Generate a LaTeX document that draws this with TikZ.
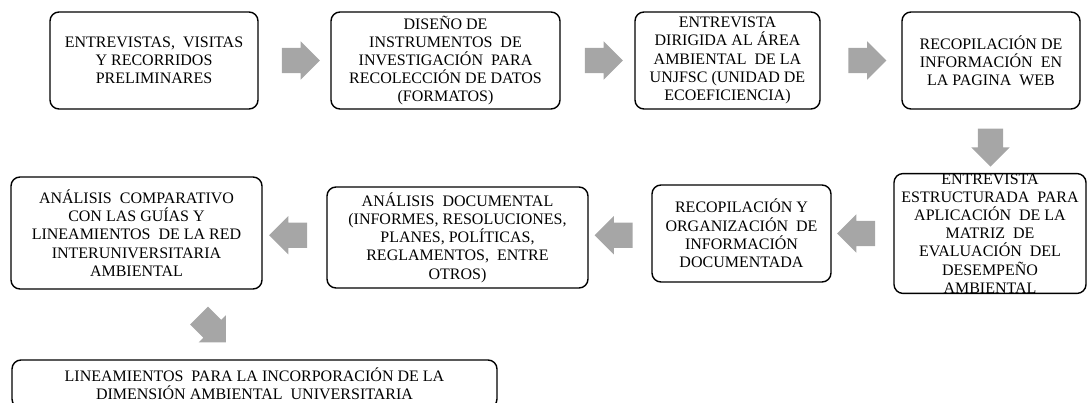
\documentclass[tikz,border=0pt]{standalone}
\usepackage{fontspec}
\setmainfont{Liberation Serif}
\usepackage{tikz}
\usetikzlibrary{shapes,arrows,positioning}
\definecolor{ArrowGray}{RGB}{166,166,166}

\begin{document}
\begin{tikzpicture}[x=1pt,y=-1pt]
	\tikzstyle{Box}		= [draw, rounded corners=9pt, line width=1.4pt, align=center, inner sep=0pt, font=\fontsize{16}{18.2}\selectfont]
	\tikzstyle{Arrow}	= [single arrow, fill=ArrowGray, draw=none, minimum height=38pt, inner xsep=0pt, inner ysep=12.5pt, single arrow head extend=6.5pt, single arrow tip angle=90]
	\tikzstyle{ToLeft}	= [rotate=180]
	\tikzstyle{ToDown}	= [rotate=-90]

	\useasboundingbox (0,0) rectangle (1088,403);

	\node (b1) at (154,60.5) [Box, minimum width=208pt, minimum height=97pt] {ENTREVISTAS,~~VISITAS\\Y RECORRIDOS\\PRELIMINARES};
	\node (b2) at (445.5,60.5) [Box, minimum width=229pt, minimum height=97pt] {DISEÑO DE\\INSTRUMENTOS~~DE\\INVESTIGACIÓN~~PARA\\RECOLECCIÓN DE DATOS\\(FORMATOS)};
	\node (b3) at (727.5,60.5) [Box, minimum width=185pt, minimum height=97pt] {ENTREVISTA\\DIRIGIDA AL ÁREA\\AMBIENTAL~~DE LA\\UNJFSC (UNIDAD DE\\ECOEFICIENCIA)};
	\node (b4) at (991,60.5) [Box, minimum width=178pt, minimum height=97pt] {RECOPILACIÓN DE\\INFORMACIÓN~~EN\\LA PAGINA~~WEB};
	\node (b5) at (990,233.5) [Box, minimum width=192pt, minimum height=119pt] {ENTREVISTA\\ESTRUCTURADA~~PARA\\APLICACIÓN~~DE LA\\MATRIZ~~DE\\EVALUACIÓN~~DEL\\DESEMPEÑO\\AMBIENTAL};
	\node (b6) at (741.5,233.5) [Box, minimum width=179pt, minimum height=97pt] {RECOPILACIÓN Y\\ORGANIZACIÓN~~DE\\INFORMACIÓN\\DOCUMENTADA};
	\node (b7) at (457.5,237.5) [Box, minimum width=261pt, minimum height=101pt] {ANÁLISIS~~DOCUMENTAL\\(INFORMES, RESOLUCIONES,\\PLANES, POLÍTICAS,\\REGLAMENTOS,~~ENTRE\\OTROS)};
	\node (b8) at (136.5,233) [Box, minimum width=251pt, minimum height=112pt] {ANÁLISIS~~COMPARATIVO\\CON LAS GUÍAS Y\\LINEAMIENTOS~~DE LA RED\\INTERUNIVERSITARIA\\AMBIENTAL};
	\node (b9) at (254.5,384) [Box, minimum width=485pt, minimum height=48pt] {LINEAMIENTOS~~PARA LA INCORPORACIÓN DE LA\\DIMENSIÓN AMBIENTAL~~UNIVERSITARIA};

	\path (b1) to node [Arrow] (a1) {} (b2);
	\path (b2) to node [Arrow] (a2) {} (b3);
	\path (b3) to node [Arrow] (a3) {} (b4);
	\path (b4) to node [Arrow, ToDown] (a4) {} (b5);
	\path (b5) to node [Arrow, ToLeft] (a5) {} (b6);
	\path (b6) to node [Arrow, ToLeft] (a6) {} (b7);
	\path (b7) to node [Arrow, ToLeft] (a7) {} (b8);
	\path (b8) to node [Arrow, rotate=-45] (a8) {} (b9);
\end{tikzpicture}
\end{document}
